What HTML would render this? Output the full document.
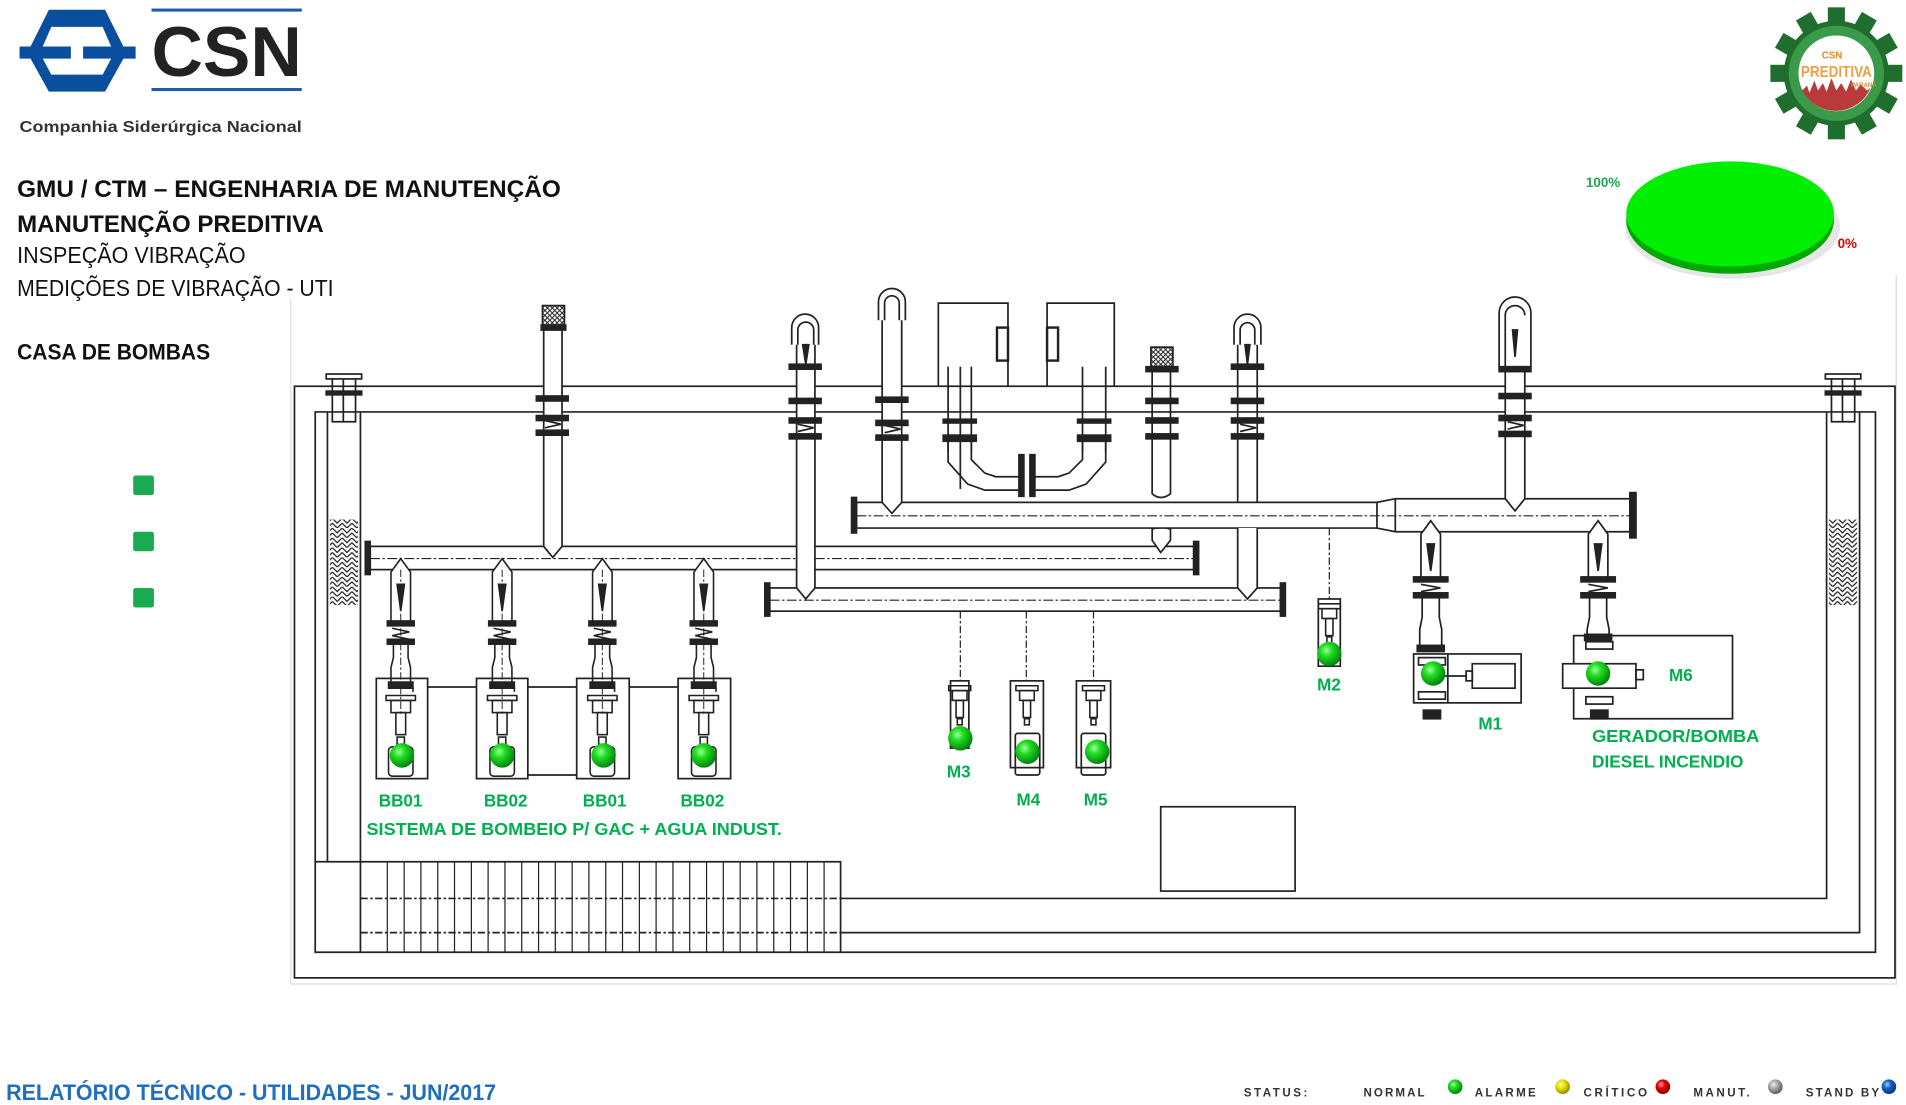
<!DOCTYPE html>
<html><head><meta charset="utf-8"><style>
html,body{margin:0;padding:0;background:#fff;overflow:hidden}
svg{display:block}
text{font-family:"Liberation Sans",sans-serif}
.g{fill:#00b050;font-weight:bold;font-size:14px}
.lg{fill:#333;font-weight:bold;font-size:9.5px}
</style></head><body>
<svg width="1906" height="1105" viewBox="0 0 1560 904" preserveAspectRatio="none" xmlns="http://www.w3.org/2000/svg">
<defs>
<radialGradient id="gb" cx="0.38" cy="0.35" r="0.7">
<stop offset="0" stop-color="#9dff9d"/><stop offset="0.35" stop-color="#22dd22"/><stop offset="1" stop-color="#007a10"/></radialGradient>
<radialGradient id="yb" cx="0.38" cy="0.35" r="0.7"><stop offset="0" stop-color="#ffff9d"/><stop offset="0.4" stop-color="#e8e000"/><stop offset="1" stop-color="#8a8000"/></radialGradient>
<radialGradient id="rb" cx="0.38" cy="0.35" r="0.7"><stop offset="0" stop-color="#ff9d9d"/><stop offset="0.4" stop-color="#e00000"/><stop offset="1" stop-color="#800000"/></radialGradient>
<radialGradient id="sb" cx="0.38" cy="0.35" r="0.7"><stop offset="0" stop-color="#eee"/><stop offset="0.4" stop-color="#aaa"/><stop offset="1" stop-color="#555"/></radialGradient>
<radialGradient id="bb" cx="0.38" cy="0.35" r="0.7"><stop offset="0" stop-color="#9dc8ff"/><stop offset="0.4" stop-color="#1060c0"/><stop offset="1" stop-color="#083070"/></radialGradient>
<pattern id="hatch" width="8" height="8" patternUnits="userSpaceOnUse">
<path d="M0,0 L4,4 L8,0 M0,4 L4,8 L8,4" fill="none" stroke="#222" stroke-width="1"/></pattern>
<pattern id="mesh" width="4" height="4" patternUnits="userSpaceOnUse">
<path d="M0,0 L4,4 M4,0 L0,4" stroke="#222" stroke-width="0.8"/></pattern>
<g id="br" fill="none" stroke="#222" stroke-width="1.3">
<path d="M-8,42 V2 L0,-9 L8,2 V42" fill="#fff"/>
<path d="M-3,12 L3,12 L0,34 Z" fill="#222"/>
<rect x="-11" y="42" width="22" height="4" fill="#222"/>
<path d="M-7,48 L7,51 L-7,54 L7,57"/>
<rect x="-11" y="57" width="22" height="4" fill="#222"/>
<path d="M-6,61 V72 L-8,80 V92 M6,61 V72 L8,80 V92"/>
<rect x="-10" y="92" width="20" height="5" fill="#222"/>
<path d="M-10,97 h20 v3 M-12,103 h24 v4 h-24 z"/>
<rect x="-8" y="107" width="16" height="10"/>
<rect x="-4" y="117" width="8" height="18"/>
<rect x="-3" y="137" width="6" height="6"/>
<rect x="-10" y="145" width="20" height="24" rx="3"/>
<line x1="0" y1="0" x2="0" y2="120" stroke-dasharray="6 2 2 2" stroke-width="0.8"/>
</g>
<g id="mp" fill="none" stroke="#222" stroke-width="1.3">
<path d="M-9,4 h18 v4 h-18 z"/>
<rect x="-6" y="8" width="12" height="8"/>
<rect x="-3" y="16" width="6" height="14"/>
<rect x="-2" y="31" width="4" height="5"/>
</g>
<g id="fl"><rect x="-13" y="0" width="26" height="4" fill="#222"/></g>
</defs>

<g>
<path d="M40,8 H86 L101,38 H111 V48 H101 L86,75 H40 L25,48 H16 V38 H25 Z" fill="#0a4f9e"/>
<path d="M42,22 H84 L91,38 H68 V48 H91 L84,61 H42 L35,48 H58 V38 H35 Z" fill="#fff"/>
<rect x="124" y="7" width="123" height="2.5" fill="#1f5ca8"/>
<rect x="124" y="72" width="123" height="2.5" fill="#1f5ca8"/>
<text x="124" y="62" font-size="58" font-weight="bold" fill="#222" textLength="123" lengthAdjust="spacingAndGlyphs">CSN</text>
<text x="16" y="108" font-size="13" font-weight="bold" fill="#333" textLength="231" lengthAdjust="spacingAndGlyphs">Companhia Siderúrgica Nacional</text>
<text x="14" y="161" font-size="20" font-weight="bold" fill="#111" textLength="445" lengthAdjust="spacingAndGlyphs">GMU / CTM – ENGENHARIA DE MANUTENÇÃO</text>
<text x="14" y="190" font-size="20" font-weight="bold" fill="#111" textLength="251" lengthAdjust="spacingAndGlyphs">MANUTENÇÃO PREDITIVA</text>
<text x="14" y="215" font-size="19" fill="#111" textLength="187" lengthAdjust="spacingAndGlyphs">INSPEÇÃO VIBRAÇÃO</text>
<text x="14" y="242" font-size="19" fill="#111" textLength="259" lengthAdjust="spacingAndGlyphs">MEDIÇÕES DE VIBRAÇÃO - UTI</text>
<text x="14" y="294" font-size="18" font-weight="bold" fill="#111" textLength="158" lengthAdjust="spacingAndGlyphs">CASA DE BOMBAS</text>
<rect x="109" y="389" width="17" height="16" rx="2" fill="#1aab50"/>
<rect x="109" y="435" width="17" height="16" rx="2" fill="#1aab50"/>
<rect x="109" y="481" width="17" height="16" rx="2" fill="#1aab50"/>
</g>

<g transform="translate(1503,60)">
<g fill="#1f6e2e">
<circle r="43"/>
<g id="teeth"><rect x="-7" y="-54" width="14" height="16"/></g>
<use href="#teeth" transform="rotate(30)"/><use href="#teeth" transform="rotate(60)"/><use href="#teeth" transform="rotate(90)"/>
<use href="#teeth" transform="rotate(120)"/><use href="#teeth" transform="rotate(150)"/><use href="#teeth" transform="rotate(180)"/>
<use href="#teeth" transform="rotate(210)"/><use href="#teeth" transform="rotate(240)"/><use href="#teeth" transform="rotate(270)"/>
<use href="#teeth" transform="rotate(300)"/><use href="#teeth" transform="rotate(330)"/>
</g>
<circle r="39" fill="#3a9a4a"/>
<circle r="31" fill="#fff"/>
<path d="M-28,14 L-24,10 L-22,16 L-18,6 L-15,14 L-11,8 L-8,15 L-4,4 L0,14 L4,8 L8,15 L12,5 L16,14 L20,9 L25,14 L28,12 A31,31 0 0 1 -28,14 Z" fill="#b83a3a"/>
<text x="-12" y="-12" font-size="8" font-weight="bold" fill="#e08a20">CSN</text>
<text x="-29" y="3" font-size="13" font-weight="bold" fill="#f0a040" textLength="58" lengthAdjust="spacingAndGlyphs">PREDITIVA</text>
<text x="12" y="11" font-size="5" font-weight="bold" fill="#e08a20">PARANÁ</text>
</g>

<ellipse cx="1418" cy="186" rx="88" ry="42" fill="#e6e6e6"/>
<ellipse cx="1416" cy="180" rx="85" ry="44" fill="#00a800"/>
<ellipse cx="1416" cy="175" rx="85" ry="43" fill="#00ee00"/>
<text x="1298" y="153" font-size="11" font-weight="bold" fill="#1aab50">100%</text>
<text x="1504" y="203" font-size="11" font-weight="bold" fill="#e00000">0%</text>

<path d="M238,245 V805 H1552 V225" fill="none" stroke="#ddd" stroke-width="1"/>

<g fill="none" stroke="#222" stroke-width="1.4">
<rect x="241" y="316" width="1310" height="484"/>
<path d="M258,337 H1535 V779 H258 Z"/>
<path d="M268,337 V705 M295,337 V779"/>
<path d="M1495,337 V735 H688 M1522,337 V763 H688"/>
<path d="M295,735 H688 M295,763 H688" stroke-dasharray="6 2 2 2"/>
<path d="M258,705 H688 V779"/>
<path d="M317,705V779 M330.8,705V779 M344.5,705V779 M358.3,705V779 M372,705V779 M385.8,705V779 M399.5,705V779 M413.3,705V779 M427,705V779 M440.8,705V779 M454.5,705V779 M468.3,705V779 M482,705V779 M495.8,705V779 M509.5,705V779 M523.3,705V779 M537,705V779 M550.8,705V779 M564.5,705V779 M578.3,705V779 M592,705V779 M605.8,705V779 M619.5,705V779 M633.3,705V779 M647,705V779 M660.8,705V779 M674.5,705V779" stroke-width="1"/>
<rect x="270" y="425" width="23" height="70" fill="url(#hatch)" stroke="none"/>
<rect x="1497" y="425" width="23" height="70" fill="url(#hatch)" stroke="none"/>
<g>
<path d="M272,310 V345 H291 V310 M281,310 V345"/>
<rect x="267" y="306" width="29" height="4" fill="#fff"/>
<rect x="267" y="320" width="29" height="3" fill="#222"/>
</g>
<g>
<path d="M1499,310 V345 H1518 V310 M1508,310 V345"/>
<rect x="1494" y="306" width="29" height="4" fill="#fff"/>
<rect x="1494" y="320" width="29" height="3" fill="#222"/>
</g>

<rect x="303" y="447" width="674" height="19" fill="#fff"/>
<line x1="303" y1="457" x2="977" y2="457" stroke-dasharray="8 2 2 2" stroke-width="0.9"/>
<rect x="299" y="443" width="4" height="27" fill="#222"/>
<rect x="977" y="443" width="4" height="27" fill="#222"/>
<path d="M445,268 V447 L452.5,456 L460,447 V268" fill="#fff"/>
<rect x="444" y="250" width="18" height="16" fill="url(#mesh)"/>
<rect x="443" y="266" width="20" height="4" fill="#222"/>
<use href="#fl" x="452" y="324"/><use href="#fl" x="452" y="340"/>
<path d="M446,344 L459,347 L446,350"/><use href="#fl" x="452" y="352"/>
<path d="M943,433 Q950,430 958,433 V442 L950,452 L943,442 Z" fill="#fff"/>

<use href="#br" x="328" y="466"/><use href="#br" x="411" y="466"/><use href="#br" x="493" y="466"/><use href="#br" x="576" y="466"/>
<rect x="308" y="555" width="42" height="82"/>
<rect x="390" y="555" width="42" height="82"/>
<rect x="472" y="555" width="43" height="82"/>
<rect x="555" y="555" width="43" height="82"/>
<path d="M350,562 H390 M432,562 H472 M515,562 H555 M432,634 H472"/>

<rect x="630" y="481" width="418" height="19" fill="#fff"/>
<line x1="630" y1="491" x2="1048" y2="491" stroke-dasharray="8 2 2 2" stroke-width="0.9"/>
<rect x="626" y="477" width="4" height="27" fill="#222"/>
<rect x="1048" y="477" width="4" height="27" fill="#222"/>
<path d="M652,282 V481 L659.5,490 L667,481 V282" fill="#fff"/>
<path d="M648,282 V268 A11,11 0 0 1 670,268 V282 M653,282 V270 A6.5,6.5 0 0 1 666,270 V282"/>
<path d="M657,282 L659.5,298 L662,282 Z" fill="#222"/>
<use href="#fl" x="659" y="298"/><use href="#fl" x="659" y="326"/><use href="#fl" x="659" y="342"/>
<path d="M653,347 L666,350 L653,353"/><use href="#fl" x="659" y="355"/>
<path d="M786,500 V557 M840,500 V557 M895,500 V557" stroke-dasharray="6 2 2 2" stroke-width="1"/>
<rect x="778" y="557" width="15" height="55"/>
<use href="#mp" x="785.5" y="557"/>
<rect x="827" y="557" width="27" height="71"/>
<use href="#mp" x="840.5" y="557"/>
<rect x="831" y="600" width="20" height="34" rx="2"/>
<rect x="881" y="557" width="28" height="71"/>
<use href="#mp" x="895" y="557"/>
<rect x="885" y="600" width="20" height="34" rx="2"/>

<path d="M701,411 H1127 L1142,408 H1334 V435 H1142 L1127,432 H701 Z" fill="#fff"/>
<line x1="701" y1="422" x2="1334" y2="422" stroke-dasharray="8 2 2 2" stroke-width="0.9"/>
<path d="M1127,411 V432 M1142,408 V435"/>
<rect x="697" y="407" width="4" height="29" fill="#222"/>
<rect x="1334" y="403" width="5" height="37" fill="#222"/>
<path d="M722,262 V411 L730,420 L738,411 V262" fill="#fff"/>
<path d="M719,262 V247 A11,11 0 0 1 741,247 V262 M724,262 V248 A6,6 0 0 1 736,248 V262"/>
<use href="#fl" x="730" y="325"/><use href="#fl" x="730" y="344"/>
<path d="M724,348 L737,351 L724,354"/><use href="#fl" x="730" y="356"/>
<path d="M768,316 V248 H825 V316 M857,316 V248 H912 V316"/>
<rect x="816" y="268" width="9" height="27" stroke-width="2"/>
<rect x="857" y="268" width="9" height="27" stroke-width="2"/>
<path d="M776,300 V370 M795,300 V370 M786,300 V400" />
<path d="M886,300 V370 M905,300 V370"/>
<rect x="772" y="343" width="27" height="3" fill="#222"/><rect x="772" y="356" width="27" height="5" fill="#222"/>
<rect x="882" y="343" width="27" height="3" fill="#222"/><rect x="882" y="356" width="27" height="5" fill="#222"/>
<path d="M776,361 V378 L792,396 L806,401 H834 M795,361 V376 L806,387 L815,390 H834"/>
<path d="M905,361 V378 L889,396 L875,401 H847 M886,361 V376 L875,387 L866,390 H847"/>
<rect x="834" y="372" width="4" height="34" fill="#222"/><rect x="843" y="372" width="4" height="34" fill="#222"/>
<rect x="942" y="284" width="18" height="16" fill="url(#mesh)"/>
<use href="#fl" x="951" y="300"/><use href="#fl" x="951" y="326"/><use href="#fl" x="951" y="342"/><use href="#fl" x="951" y="355"/>
<path d="M943,304 V404 Q950,410 958,404 V304"/>
<path d="M1013,282 V411 M1029,282 V411 M1013,432 V481 L1021,490 L1029,481 V432" fill="#fff"/>
<path d="M1010,282 V268 A11,11 0 0 1 1032,268 V282 M1015,282 V270 A6,6 0 0 1 1027,270 V282"/>
<path d="M1019,282 L1021,298 L1023,282 Z" fill="#222"/>
<use href="#fl" x="1021" y="298"/><use href="#fl" x="1021" y="326"/><use href="#fl" x="1021" y="342"/>
<path d="M1015,347 L1028,350 L1015,353"/><use href="#fl" x="1021" y="355"/>
<path d="M1232,300 V408 L1240,418 L1248,408 V300" fill="#fff"/>
<path d="M1227,300 V256 A13,13 0 0 1 1253,256 V300 M1232,300 V258 A8,8 0 0 1 1248,258"/>
<path d="M1238,270 L1240,292 L1242,270 Z" fill="#222"/>
<use href="#fl" x="1240" y="300"/><use href="#fl" x="1240" y="322"/><use href="#fl" x="1240" y="340"/>
<path d="M1234,345 L1247,348 L1234,351"/><use href="#fl" x="1240" y="353"/>

<path d="M1088,432 V490" stroke-dasharray="6 2 2 2" stroke-width="1"/>
<rect x="1079" y="490" width="18" height="55"/>
<use href="#mp" x="1088" y="490"/>

<g transform="translate(1171,435)">
<path d="M-8,40 V2 L0,-9 L8,2 V40" fill="#fff"/>
<path d="M-3,10 L3,10 L0,32 Z" fill="#222"/>
<rect x="-14" y="37" width="28" height="4" fill="#222"/><path d="M-8,43 L8,46 L-8,49"/><rect x="-14" y="50" width="28" height="4" fill="#222"/>
<path d="M-7,54 V70 L-9,80 V95 M7,54 V70 L9,80 V95"/>
<rect x="-11" y="93" width="22" height="5" fill="#222"/>
</g>
<rect x="1157" y="535" width="88" height="40"/>
<path d="M1185,535 V575"/>
<rect x="1161" y="538" width="22" height="6"/><rect x="1161" y="566" width="22" height="6"/>
<rect x="1205" y="543" width="35" height="20"/><rect x="1200" y="549" width="5" height="8"/>
<path d="M1180,553 H1200"/>
<rect x="1165" y="581" width="14" height="7" fill="#222"/>
<g transform="translate(1308,435)">
<path d="M-8,40 V2 L0,-9 L8,2 V40" fill="#fff"/>
<path d="M-3,10 L3,10 L0,32 Z" fill="#222"/>
<rect x="-14" y="37" width="28" height="4" fill="#222"/><path d="M-8,43 L8,46 L-8,49"/><rect x="-14" y="50" width="28" height="4" fill="#222"/>
<path d="M-7,54 V70 L-9,80 V85"/><path d="M7,54 V70 L9,80 V85"/>
<rect x="-11" y="84" width="22" height="5" fill="#222"/>
</g>
<rect x="1288" y="520" width="130" height="68"/>
<rect x="1279" y="543" width="60" height="20" fill="#fff"/>
<rect x="1339" y="548" width="6" height="8"/>
<rect x="1298" y="525" width="22" height="6"/><rect x="1298" y="570" width="22" height="6"/>
<rect x="1302" y="581" width="14" height="7" fill="#222"/>

<rect x="950" y="660" width="110" height="69"/>
</g>

<g fill="url(#gb)">
<circle cx="329" cy="618" r="10"/><circle cx="411" cy="618" r="10"/><circle cx="494" cy="618" r="10"/><circle cx="576" cy="618" r="10"/>
<circle cx="786" cy="604" r="10"/><circle cx="841" cy="615" r="10"/><circle cx="898" cy="615" r="10"/>
<circle cx="1088" cy="535" r="10"/><circle cx="1173" cy="551" r="10"/><circle cx="1308" cy="551" r="10"/>
</g>

<text class="g" x="310" y="660">BB01</text>
<text class="g" x="396" y="660">BB02</text>
<text class="g" x="477" y="660">BB01</text>
<text class="g" x="557" y="660">BB02</text>
<text class="g" x="300" y="683" textLength="340" lengthAdjust="spacingAndGlyphs">SISTEMA DE BOMBEIO P/ GAC + AGUA INDUST.</text>
<text class="g" x="775" y="636">M3</text>
<text class="g" x="832" y="659">M4</text>
<text class="g" x="887" y="659">M5</text>
<text class="g" x="1078" y="565">M2</text>
<text class="g" x="1210" y="597">M1</text>
<text class="g" x="1366" y="557">M6</text>
<text class="g" x="1303" y="607" textLength="137" lengthAdjust="spacingAndGlyphs">GERADOR/BOMBA</text>
<text class="g" x="1303" y="628" textLength="124" lengthAdjust="spacingAndGlyphs">DIESEL INCENDIO</text>

<text x="5" y="900" font-size="18" font-weight="bold" fill="#1f6fc0" textLength="401" lengthAdjust="spacingAndGlyphs">RELATÓRIO TÉCNICO - UTILIDADES - JUN/2017</text>
<text class="lg" x="1018" y="897" textLength="52" lengthAdjust="spacing">STATUS:</text>
<text class="lg" x="1116" y="897" textLength="50" lengthAdjust="spacing">NORMAL</text>
<circle cx="1191" cy="889" r="6" fill="url(#gb)"/>
<text class="lg" x="1207" y="897" textLength="50" lengthAdjust="spacing">ALARME</text>
<circle cx="1279" cy="889" r="6" fill="url(#yb)"/>
<text class="lg" x="1296" y="897" textLength="52" lengthAdjust="spacing">CRÍTICO</text>
<circle cx="1361" cy="889" r="6" fill="url(#rb)"/>
<text class="lg" x="1386" y="897" textLength="46" lengthAdjust="spacing">MANUT.</text>
<circle cx="1453" cy="889" r="6" fill="url(#sb)"/>
<text class="lg" x="1478" y="897" textLength="60" lengthAdjust="spacing">STAND BY</text>
<circle cx="1546" cy="889" r="6" fill="url(#bb)"/>
</svg>
</body></html>
